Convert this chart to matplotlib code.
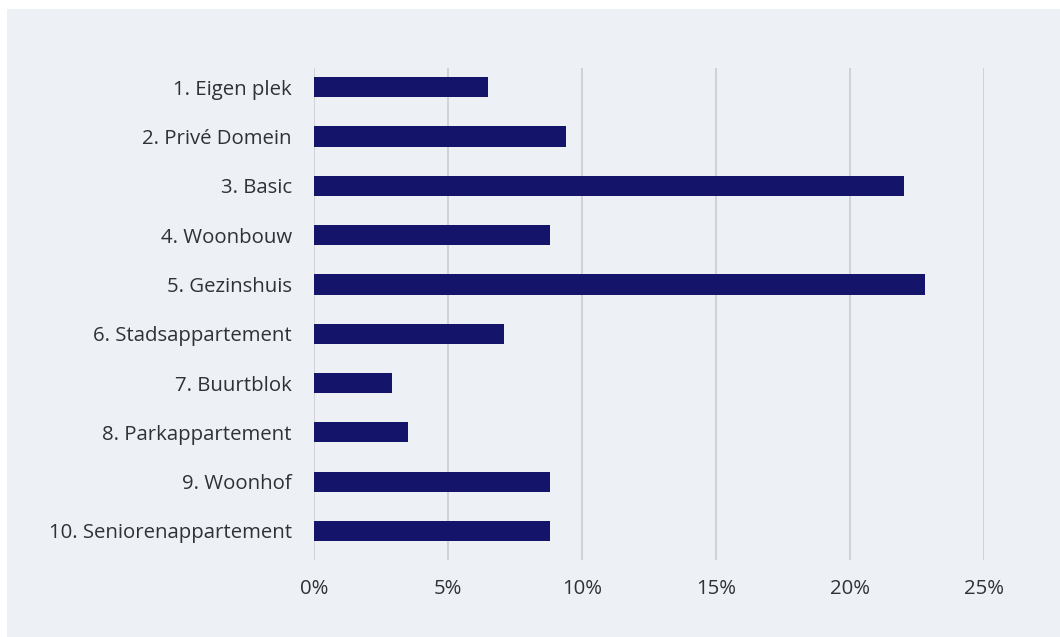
import matplotlib
matplotlib.use('Agg')
import matplotlib.pyplot as plt
from matplotlib.patches import Rectangle
from matplotlib.ticker import FuncFormatter

# woningtypes en aandeel (%)
categories = ['1. Eigen plek', '2. Privé Domein', '3. Basic', '4. Woonbouw',
              '5. Gezinshuis', '6. Stadsappartement', '7. Buurtblok',
              '8. Parkappartement', '9. Woonhof', '10. Seniorenappartement']
values = [6.5, 9.4, 22.0, 8.8, 22.8, 7.1, 2.9, 3.5, 8.8, 8.8]
x_ticks = [0, 5, 10, 15, 20, 25]

bg = '#edf0f4'
navy = '#14146a'
textcol = '#2e3136'

plt.rcParams['font.family'] = ['Open Sans', 'DejaVu Sans']

fig = plt.figure(figsize=(10.6, 6.37), dpi=100)
fig.patch.set_facecolor('white')
# lichtgrijs paneel, witte rand links en boven
fig.patches.append(Rectangle((7 / 1060, 0), 1, 1 - 9 / 637, transform=fig.transFigure,
                             facecolor=bg, edgecolor='none', zorder=-10))

ax = fig.add_axes([314 / 1060, 1 - 560 / 637, (984 - 314) / 1060, (560 - 68) / 637])
ax.set_zorder(5)
ax.set_facecolor('none')

ypos = list(range(len(categories)))
ax.barh(ypos, values, height=0.41, color=navy, zorder=3)

ax.set_xlim(0, 25)
ax.set_ylim(9.59, -0.39)
ax.set_xticks(x_ticks)
ax.xaxis.set_major_formatter(FuncFormatter(lambda v, p: f'{v:.0f}%'))
ax.set_yticks(ypos)
ax.set_yticklabels(categories)

ax.grid(axis='x', color='#c8cacd', linewidth=1.1, zorder=0)
ax.grid(axis='y', visible=False)
for s in ax.spines.values():
    s.set_visible(False)
ax.tick_params(axis='both', length=0, labelsize=14.7, colors=textcol)
ax.tick_params(axis='y', pad=16)
ax.tick_params(axis='x', pad=14)

plt.savefig('out.png', dpi=100, facecolor=fig.get_facecolor())
plt.close()
